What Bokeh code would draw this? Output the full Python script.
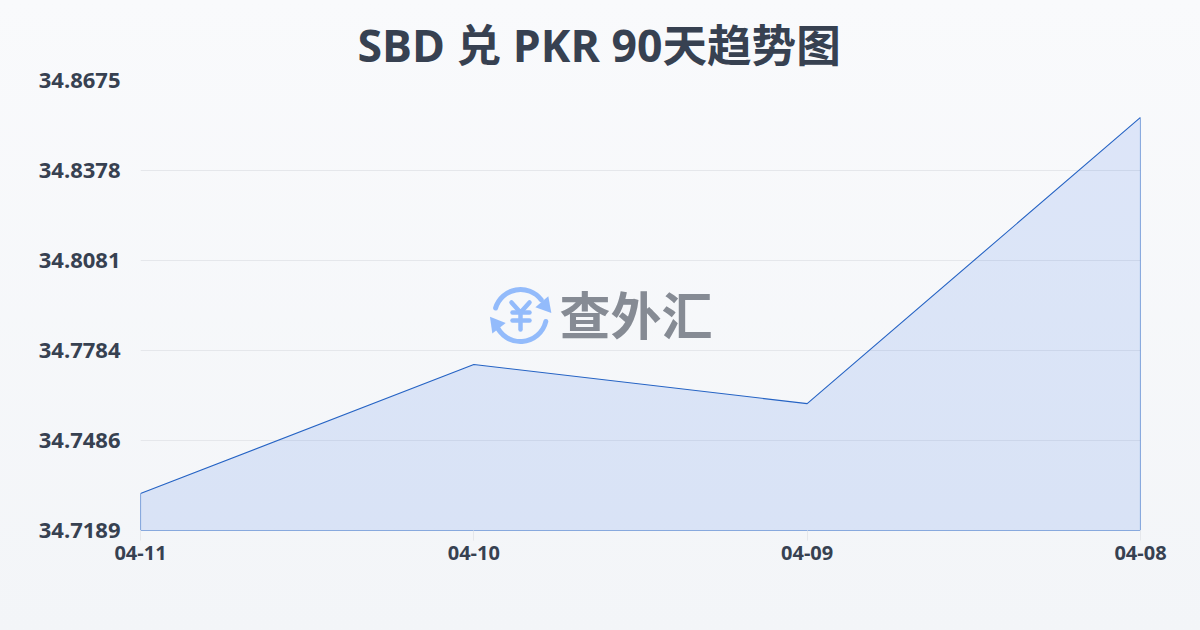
from bokeh.plotting import figure
from bokeh.models import Range1d, FixedTicker, Label, Title
from bokeh.embed import file_html
from bokeh.resources import INLINE

title_text = "SBD 兑 PKR 90天趋势图"
dates = ["04-11", "04-10", "04-09", "04-08"]
rates = [34.7311, 34.7737, 34.7608, 34.8553]
y_tick_labels = ["34.7189", "34.7486", "34.7784", "34.8081", "34.8378", "34.8675"]
logo_text = "查外汇"

FONT = "'Open Sans', 'Noto Sans CJK SC', sans-serif"
INK = "#374151"
y_low, y_high = float(y_tick_labels[0]), float(y_tick_labels[-1])
xs = list(range(len(dates)))

W, H = 1200, 630
L, R, T, B = 140, 60, 80, 100
p = figure(width=W, height=H, output_backend="svg", toolbar_location=None,
           x_range=Range1d(xs[0], xs[-1]), y_range=Range1d(y_low, y_high),
           min_border_left=L, min_border_right=R, min_border_top=T, min_border_bottom=B,
           background_fill_color=None, border_fill_color=None, outline_line_color=None)

# title
p.title = Title(text=title_text, align="left", offset=217, text_font=FONT,
                text_font_size="44.6px", text_font_style="bold", text_color=INK, standoff=11)

# axes
p.xaxis.ticker = FixedTicker(ticks=xs)
p.xaxis.major_label_overrides = {i: d for i, d in zip(xs, dates)}
y_ticks = [float(s) for s in y_tick_labels]
p.yaxis.ticker = FixedTicker(ticks=y_ticks)
p.yaxis.major_label_overrides = {v: s for v, s in zip(y_ticks, y_tick_labels)}
p.xaxis.axis_line_color = None
p.yaxis.axis_line_color = None
p.yaxis.major_tick_line_color = None
p.xaxis.major_tick_line_color = "#e5e7eb"
p.xaxis.major_tick_out = 10
p.xaxis.major_tick_in = 0
p.axis.minor_tick_line_color = None
p.xaxis.major_label_text_font = FONT
p.yaxis.major_label_text_font = FONT
p.xaxis.major_label_text_font_style = "bold"
p.yaxis.major_label_text_font_style = "bold"
p.xaxis.major_label_text_color = INK
p.yaxis.major_label_text_color = INK
p.xaxis.major_label_text_font_size = "20px"
p.yaxis.major_label_text_font_size = "22px"
p.xaxis.major_label_standoff = 5
p.yaxis.major_label_standoff = 14
p.yaxis.major_label_orientation = "horizontal"
p.xgrid.visible = False
p.ygrid.grid_line_color = "#e5e7eb"
p.ygrid.grid_line_width = 1

# area
p.patch(xs + [xs[-1], xs[0]], rates + [y_low, y_low],
        fill_color="#2563eb", fill_alpha=0.13, line_color="#2563c4", line_width=1.1)

# watermark helpers: page pixels to data
def dx(px):
    return (px - 140) / 1000 * (xs[-1] - xs[0]) + xs[0]
def dy(py):
    return y_high - (py - 80) / 450 * (y_high - y_low)

BLUE = "#93bbfb"
p.arc(x=[dx(520), dx(520)], y=[dy(315), dy(315)], radius=[26, 26], radius_units="screen",
      start_angle=[0.65, 3.5], end_angle=[2.85, 6.05], line_color=BLUE, line_width=5, line_cap="round")
p.scatter(x=[dx(544.5), dx(495.5)], y=[dy(305), dy(324)], marker="triangle", size=17,
          angle=[1.75, -1.43], fill_color=BLUE, line_color=None)
# yen sign of the logo
p.multi_line(xs=[[dx(511), dx(520), dx(529)], [dx(512), dx(529)], [dx(512), dx(529)], [dx(520), dx(520)]],
             ys=[[dy(302), dy(312), dy(302)], [dy(312), dy(312)], [dy(320), dy(320)], [dy(312), dy(329)]],
             line_color=BLUE, line_width=4.5, line_cap="round", line_join="round")
p.add_layout(Label(x=dx(635.5), y=dy(314), text=logo_text, text_font=FONT, text_font_size="51px",
                   text_font_style="bold", text_color="#868b94", text_align="center", text_baseline="middle"))

html = file_html(p, INLINE)
style = "<style>html,body{background:linear-gradient(180deg,#f9fafc 0%,#f3f5f8 100%);background-attachment:fixed;}</style>"
html = html.replace("</head>", style + "</head>", 1)
open("out.html", "w").write(html)
